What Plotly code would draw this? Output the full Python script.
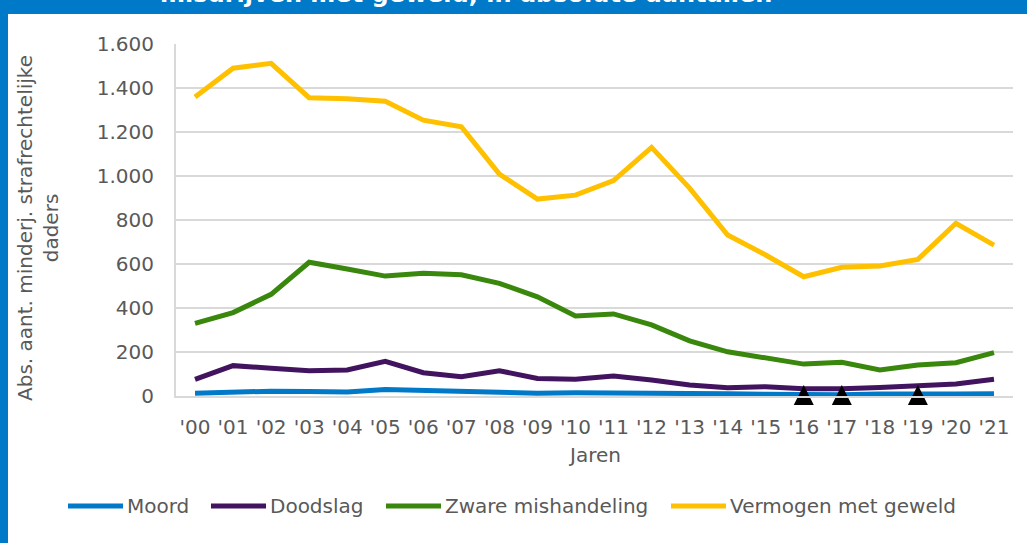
import plotly.graph_objects as go

# Data
years = ["'00", "'01", "'02", "'03", "'04", "'05", "'06", "'07", "'08", "'09", "'10",
         "'11", "'12", "'13", "'14", "'15", "'16", "'17", "'18", "'19", "'20", "'21"]
moord = [12, 18, 22, 20, 18, 30, 26, 22, 18, 13, 15, 15, 14, 12, 10, 8, 5, 6, 9, 7, 9, 10]
doodslag = [76, 138, 126, 115, 118, 158, 106, 88, 115, 80, 76, 91, 73, 50, 38, 42, 33, 33, 39, 48, 55, 76]
zware_mishandeling = [330, 379, 462, 608, 577, 545, 558, 551, 512, 451, 364, 373, 323, 251,
                      201, 174, 145, 153, 118, 141, 151, 197]
vermogen_met_geweld = [1359, 1490, 1512, 1356, 1351, 1340, 1254, 1224, 1009, 895, 913, 979,
                       1130, 945, 732, 641, 542, 585, 591, 621, 785, 686]
triangle_years = ["'16", "'17", "'19"]
triangle_y = [50, 50, 50]

names = ["Moord", "Doodslag", "Zware mishandeling", "Vermogen met geweld"]
values = [moord, doodslag, zware_mishandeling, vermogen_met_geweld]
colors = ["#0079C8", "#42145F", "#39870C", "#FFC000"]

FONT = "DejaVu Sans, Verdana, sans-serif"
GREY = "#595959"
BLUE = "#0079C8"

fig = go.Figure()
for name, vals, col in zip(names, values, colors):
    fig.add_trace(go.Scatter(
        x=years, y=vals, mode="lines", name=name,
        line=dict(color=col, width=5), showlegend=False,
    ))

fig.add_trace(go.Scatter(
    x=triangle_years, y=triangle_y, mode="markers", showlegend=False,
    marker=dict(symbol="arrow-up", size=20, color="black", line=dict(width=0)),
    cliponaxis=False, hoverinfo="skip",
))

# plot area: x 176..1013, y 44..396 pixels
L, T, W, H = 176, 44, 837, 352


def px(x):
    return (x - L) / W


def py(y):
    return (T + H - y) / H


shapes = [
    dict(type="rect", xref="paper", yref="paper", x0=px(0), x1=px(1027),
         y0=py(14), y1=py(0), fillcolor=BLUE, line=dict(width=0), layer="below"),
    dict(type="rect", xref="paper", yref="paper", x0=px(0), x1=px(8),
         y0=py(543), y1=py(0), fillcolor=BLUE, line=dict(width=0), layer="below"),
]
annotations = [
    # title sits mostly above the visible area, as in the cropped reference
    dict(text="<b>misdrijven met geweld, in absolute aantallen</b>", xref="paper", yref="paper",
         x=px(466), y=py(10), xanchor="center", yanchor="bottom", showarrow=False,
         font=dict(family=FONT, size=24, color="white")),
    dict(text="Abs. aant. minderj. strafrechtelijke<br>daders", xref="paper", yref="paper",
         x=px(38), y=py(228), xanchor="center", yanchor="middle", textangle=-90,
         showarrow=False, font=dict(family=FONT, size=20, color=GREY)),
    dict(text="Jaren", xref="paper", yref="paper", x=px(594), y=py(455),
         xanchor="center", yanchor="middle", showarrow=False,
         font=dict(family=FONT, size=20, color=GREY)),
]

# legend drawn by hand (long line symbols as in the reference)
legend_x = [68, 211, 386, 671]
for name, col, lx in zip(names, colors, legend_x):
    shapes.append(dict(type="line", xref="paper", yref="paper", x0=px(lx), x1=px(lx + 55),
                       y0=py(506), y1=py(506), line=dict(color=col, width=5)))
    annotations.append(dict(text=name, xref="paper", yref="paper", x=px(lx + 57), y=py(506),
                            xanchor="left", yanchor="middle", showarrow=False,
                            font=dict(family=FONT, size=20, color=GREY)))

fig.update_layout(
    width=1027, height=543,
    margin=dict(l=L, r=1027 - L - W, t=T, b=543 - T - H),
    paper_bgcolor="white", plot_bgcolor="white",
    separators=",.",
    font=dict(family=FONT, color=GREY, size=20),
    showlegend=False,
    shapes=shapes,
    annotations=annotations,
)

fig.update_xaxes(
    type="category", range=[-0.5, 21.5], showgrid=False,
    showline=True, linecolor="#D9D9D9", linewidth=2,
    ticks="", ticklabelstandoff=12, tickfont=dict(size=20, color=GREY),
)
fig.update_yaxes(
    range=[0, 1600], dtick=200, tickformat=",d",
    showgrid=True, gridcolor="#D9D9D9", gridwidth=2,
    showline=True, linecolor="#D9D9D9", linewidth=2, zeroline=False,
    ticks="", ticklabelstandoff=16, tickfont=dict(size=20, color=GREY),
)

fig.write_html("out.html", config={"displayModeBar": False},
               post_script="document.body.style.margin='0';")
